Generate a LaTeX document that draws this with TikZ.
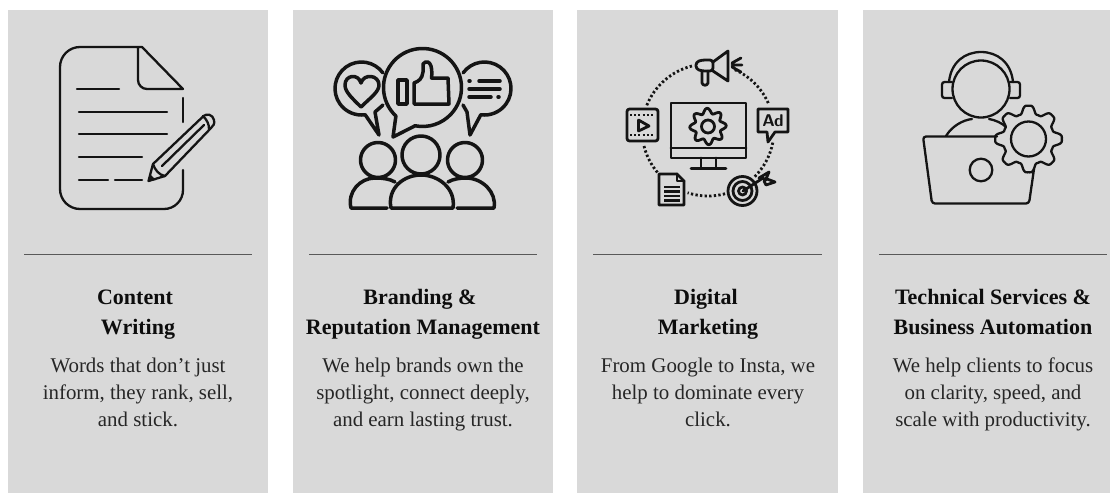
\documentclass[tikz,border=0pt]{standalone}
\usepackage{fontspec}
\setmainfont{Liberation Serif}
\definecolor{panel}{HTML}{D9D9D9}
\definecolor{ink}{HTML}{141414}
\tikzset{
  panelbox/.style={fill=panel,draw=none},
  rulebar/.style={draw=black!65,line width=1.3pt},
  icon/.style={draw=ink,line width=2.3pt,line cap=round,line join=round},
  iconb/.style={draw=ink,line width=3.5pt,line cap=round,line join=round},
  iconm/.style={draw=ink,line width=2.8pt,line cap=round,line join=round},
  dots/.style={draw=ink,line width=2.8pt,dash pattern=on 2.3pt off 2.3pt},
  head/.style={font=\fontsize{22}{30}\selectfont\bfseries,align=center,text=black!95,anchor=base,inner sep=0},
  body/.style={font=\fontsize{20.9}{27}\selectfont,align=center,text=black!85,anchor=base,inner sep=0}
}
\begin{document}
\begin{tikzpicture}[x=1pt,y=-1pt]
\useasboundingbox (0,0) rectangle (1110,493);
\fill[white] (0,0) rectangle (1110,493);
\fill[panelbox] (8,10) rectangle (268,493);
\fill[panelbox] (293,10) rectangle (553,493);
\fill[panelbox] (577,10) rectangle (838,493);
\fill[panelbox] (863,10) rectangle (1110,493);
\draw[rulebar] (24,254.5) -- (252,254.5);
\draw[rulebar] (309,254.5) -- (537,254.5);
\draw[rulebar] (593,254.5) -- (822,254.5);
\draw[rulebar] (879,254.5) -- (1107,254.5);
% icon 1
\draw[icon] (183,98) -- (183,122);
\draw[icon] (183,170) -- (183,190) arc (0:90:19) -- (80,209) arc (90:180:20) -- (60,67) arc (180:270:20) -- (142,47) -- (183,89) -- (147,89) arc (90:180:9) -- (138,47);
\draw[icon] (77,89) -- (119,89) (79,112) -- (167,112) (79,134) -- (167,134) (79,157) -- (142,157) (79,180) -- (108,180) (115,180) -- (142,180);
\draw[icon] (148.5,181) -- (153,164) -- (202,117.5) .. controls (207,112) and (213,115) .. (214,120) .. controls (215,124) and (213,126) .. (211,128) -- (165,176) -- cycle;
\draw[icon] (153,164) .. controls (155,170) and (159,175) .. (165,176);
\draw[icon] (162,166) -- (204,125);
\draw[icon] (203,116) .. controls (207,120) and (209,124) .. (209,129);
\fill[ink] (148.5,181) -- (150,174) -- (156,180) -- cycle;
% icon 2
\draw[iconb] (422.5,87.5) ++(133:39) arc (133:461:39) -- (393,137) -- cycle;
\draw[iconb] (361.5,88.5) ++(324:26.5) arc (324:82:26.5) -- (379,135) -- (375,112) -- (383,105);
\draw[iconb] (484.5,88.5) ++(216:26.5) arc (216:458:26.5) -- (470,135) -- (467,112) -- (463,105);
\draw[iconb] (361,107) .. controls (352,98) and (345,92) .. (345,85) .. controls (345,75) and (358,73) .. (361,83) .. controls (364,73) and (379,75) .. (379,85) .. controls (379,92) and (370,98) .. (361,107) -- cycle;
\draw[iconb] (398,80) rectangle (407,104);
\draw[iconb] (414,104) -- (414,83) .. controls (419,81) and (422,79) .. (423,72) -- (423,64) .. controls (426,60) and (430,62) .. (431,66) .. controls (432,70) and (432,74) .. (431.5,78) -- (448,78) -- (449,104) -- cycle;
\draw[iconb] (469,81) -- (470,81) (479,81) -- (500,81) (469,89) -- (500,89) (469,97) -- (491,97) (498,97) -- (499,97);
\draw[iconb] (421,155) circle[radius=19];
\draw[iconb] (378,160) circle[radius=17.5];
\draw[iconb] (465,160) circle[radius=17.5];
\draw[iconb] (391,208) .. controls (387,188) and (404,175) .. (421,175) .. controls (438,175) and (456,188) .. (453,208) -- cycle;
\draw[iconb] (387,208) -- (351,208) .. controls (347,192) and (360,178) .. (375,178) .. controls (383,178) and (390,179) .. (395,182);
\draw[iconb] (457,208) -- (494,208) .. controls (497,192) and (482,178) .. (466,178) .. controls (460,178) and (453,179) .. (448,182);
% icon 3
\draw[dots] (708,130) ++(202:66) arc (202:256:66);
\draw[dots] (708,130) ++(294:66) arc (294:337:66);
\draw[dots] (708,130) ++(11:66) arc (11:45:66);
\draw[dots] (708,130) ++(75:66) arc (75:108:66);
\draw[dots] (708,130) ++(140:66) arc (140:167:66);
\draw[iconm] (671,103) rectangle (746,158);
\draw[iconm] (671,148) -- (746,148);
\draw[iconm] (701,158) -- (701,167) (716,158) -- (716,167) (691,168.5) -- (726,168.5);
\draw[iconm] plot[domain=0:360,samples=121,smooth] ({708+(15.7+2.5*cos(8*\x+22.5))*cos(\x)},{126.5+(15.7+2.5*cos(8*\x+22.5))*sin(\x)}) -- cycle;
\draw[iconm] (708,126.5) circle[radius=6.5];
\draw[iconm,rounded corners=2.5pt] (627,109) rectangle (658,141);
\draw[iconm,dash pattern=on 2pt off 2.2pt,line cap=butt] (630,115) -- (655,115) (630,135) -- (655,135);
\draw[iconm] (638.5,120) -- (649,126) -- (638.5,131) -- cycle;
\draw[iconm] (758,109) -- (788,109) -- (788,132) -- (775,132) -- (768,142) -- (767,132) -- (758,132) -- cycle;
\node[font=\fontsize{17}{17}\selectfont\bfseries\sffamily,text=ink,inner sep=0] (adt) at (773,121) {Ad};
\draw[iconm] (713,62) -- (728,51) -- (728,81) -- (713,71);
\draw[iconm,rounded corners=3pt] (713,60) -- (702,60) -- (696,62) -- (696,69) -- (702,71) -- (713,71) -- cycle;
\draw[iconm] (702,71) -- (702,83) .. controls (703,86) and (707,86) .. (708,83) -- (708,71);
\draw[iconm] (732,63) -- (741,58) (732,65) -- (742,65) (732,67) -- (741,72);
\draw[iconm] (659,174) -- (677,174) -- (684,181) -- (684,205) -- (659,205) -- cycle;
\draw[iconm] (677,174) -- (677,181) -- (684,181);
\draw[iconm,line cap=butt] (664,187) -- (680,187) (664,191.5) -- (680,191.5) (664,196) -- (680,196) (664,200.5) -- (680,200.5);
\draw[iconm] (742.5,191) circle[radius=14.5];
\draw[iconm] (742.5,191) circle[radius=9.5];
\draw[iconm] (742.5,191) circle[radius=4];
\draw[iconm] (743,191) -- (763,178);
\draw[iconm] (759,178) -- (769,172) -- (766,179) -- cycle;
\draw[iconm] (764,181) -- (767,179) -- (775,182) -- (766,185) -- cycle;
% icon 4
\draw[icon] (981,89) circle[radius=28.5];
\draw[icon] (949,82) .. controls (951,62) and (965,52) .. (981,52) .. controls (997,52) and (1011,62) .. (1013,82);
\draw[icon,rounded corners=2.5pt] (952,82) -- (942,82) -- (942,98) -- (952,98);
\draw[icon,rounded corners=2.5pt] (1010,82) -- (1020,82) -- (1020,98) -- (1010,98);
\draw[icon] (946,136) .. controls (952,126) and (963,120) .. (972,119);
\draw[icon] (989,119) .. controls (995,120) and (1002,123) .. (1006,127);
\draw[icon,rounded corners=3pt] (997,136.5) -- (923,136.5) -- (932,203.5) -- (1029,203.5) -- (1034,169);
\draw[icon] (981,170) circle[radius=11.3];
\draw[icon] (1028.5,139) circle[radius=17.5];
\draw[icon] plot[domain=0:360,samples=193,smooth] ({1028.5+(29.5+4.5*(cos(8*\x)-0.15*cos(24*\x)))*cos(\x)},{139+(29.5+4.5*(cos(8*\x)-0.15*cos(24*\x)))*sin(\x)}) -- cycle;
% text
\node[head] (h1) at (135,304) {Content};
\node[head] (h1b) at (138,334) {Writing};
\node[body] (b1) at (138,426) {Words that don’t just\\inform, they rank, sell,\\and stick.};
\node[head] (h2) at (420,304) {Branding \&};
\node[head] (h2b) at (423,334) {Reputation Management};
\node[body] (b2) at (423,426) {We help brands own the\\spotlight, connect deeply,\\and earn lasting trust.};
\node[head] (h3) at (706,304) {Digital};
\node[head] (h3b) at (708,334) {Marketing};
\node[body] (b3) at (708,426) {From Google to Insta, we\\help to dominate every\\click.};
\node[head] (h4) at (993,304) {Technical Services \&};
\node[head] (h4b) at (993,334) {Business Automation};
\node[body] (b4) at (993,426) {We help clients to focus\\on clarity, speed, and\\scale with productivity.};
\end{tikzpicture}
\end{document}
